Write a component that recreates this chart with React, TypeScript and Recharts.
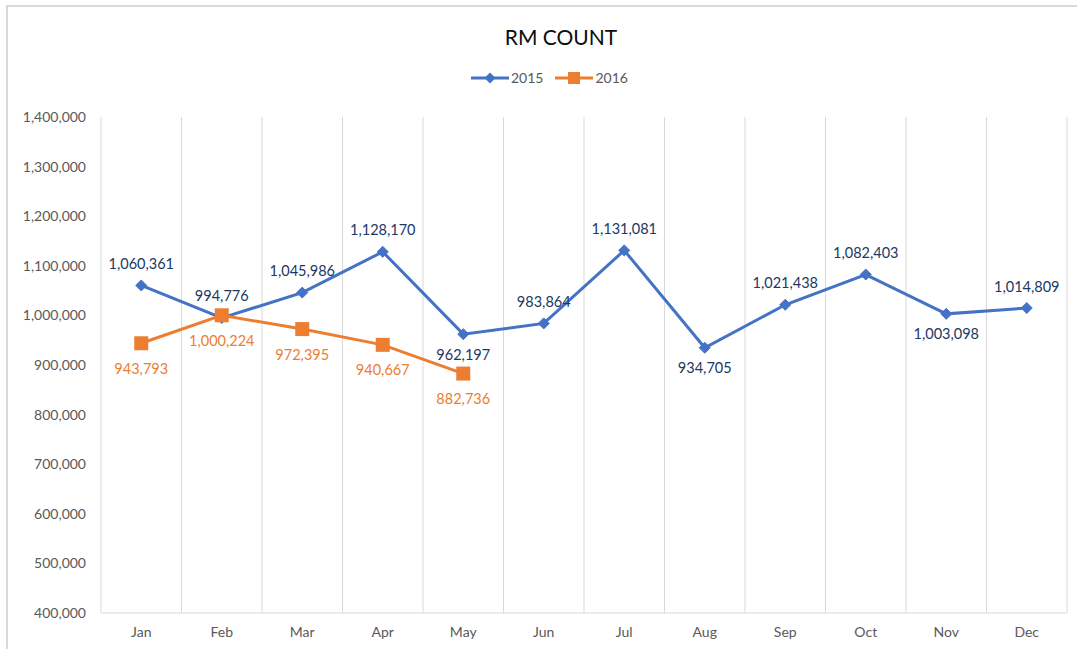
import React from 'react';
import { LineChart, Line, XAxis, YAxis, CartesianGrid } from 'recharts';

const months = ['Jan', 'Feb', 'Mar', 'Apr', 'May', 'Jun', 'Jul', 'Aug', 'Sep', 'Oct', 'Nov', 'Dec'];
const count2015 = [1060361, 994776, 1045986, 1128170, 962197, 983864, 1131081, 934705, 1021438, 1082403, 1003098, 1014809];
const count2016 = [943793, 1000224, 972395, 940667, 882736];
const yTicks = [400000, 500000, 600000, 700000, 800000, 900000, 1000000, 1100000, 1200000, 1300000, 1400000];

// months where the 2015 label sits under the point
const below2015 = ['May', 'Aug', 'Nov'];

const BLUE = '#4472C4';
const ORANGE = '#ED7D31';
const FONT = 'Lato, "Open Sans", sans-serif';

const data = months.map((m, i) => ({
  month: m,
  y2015: count2015[i],
  y2016: i < count2016.length ? count2016[i] : null,
}));

const fmt = (v: number) => v.toLocaleString('en-US');

const Diamond = (props: any) => {
  const { cx, cy } = props;
  if (cx == null || cy == null) return null;
  const r = 5.5;
  return <path d={`M${cx},${cy - r}L${cx + r},${cy}L${cx},${cy + r}L${cx - r},${cy}Z`} fill={BLUE} stroke={BLUE} />;
};

const Square = (props: any) => {
  const { cx, cy } = props;
  if (cx == null || cy == null) return null;
  return <rect x={cx - 7} y={cy - 7} width={14} height={14} fill={ORANGE} />;
};

const Label2015 = (props: any) => {
  const { x, y, value, index } = props;
  if (value == null) return null;
  const under = below2015.includes(months[index]);
  return (
    <text x={x} y={under ? y + 20 : y - 22} textAnchor="middle" dominantBaseline="central"
      fill="#203864" fontSize={14.5} fontFamily={FONT}>
      {fmt(value)}
    </text>
  );
};

const Label2016 = (props: any) => {
  const { x, y, value } = props;
  if (value == null) return null;
  return (
    <text x={x} y={y + 25} textAnchor="middle" dominantBaseline="central"
      fill={ORANGE} fontSize={14.5} fontFamily={FONT}>
      {fmt(value)}
    </text>
  );
};

export default function App() {
  return (
    <div style={{ position: 'relative', width: 1077, height: 649, overflow: 'hidden', background: '#fff', fontFamily: FONT }}>
      <style>{'body{margin:0}'}</style>
      <div style={{ position: 'absolute', left: 6, top: 5, width: 1200, height: 800, border: '2px solid #d9d9d9', boxSizing: 'border-box' }} />
      <div style={{ position: 'absolute', left: 0, width: 1122, top: 24, textAlign: 'center', fontSize: 21, color: '#0d0d0d' }}>RM COUNT</div>
      <div style={{ position: 'absolute', left: 471, top: 69, display: 'flex', alignItems: 'center', fontSize: 14, color: '#595959' }}>
        <svg width={38} height={16}>
          <line x1={0} y1={8} x2={38} y2={8} stroke={BLUE} strokeWidth={3} />
          <path d="M19,2.5L24.5,8L19,13.5L13.5,8Z" fill={BLUE} />
        </svg>
        <span style={{ marginLeft: 2 }}>2015</span>
        <svg width={38} height={16} style={{ marginLeft: 12 }}>
          <line x1={0} y1={8} x2={38} y2={8} stroke={ORANGE} strokeWidth={3} />
          <rect x={13} y={2} width={12} height={12} fill={ORANGE} />
        </svg>
        <span style={{ marginLeft: 2 }}>2016</span>
      </div>
      <div style={{ position: 'absolute', left: 0, top: 0 }}>
        <LineChart width={1077} height={649} data={data} margin={{ top: 117, right: 10, bottom: 0, left: 0 }}>
          <CartesianGrid
            horizontal={false}
            stroke="#d9d9d9"
            verticalCoordinatesGenerator={({ offset }: any) =>
              Array.from({ length: months.length + 1 }, (_, i) => offset.left + (i * offset.width) / months.length)
            }
          />
          <XAxis
            dataKey="month"
            scale="band"
            height={36}
            axisLine={{ stroke: '#d9d9d9' }}
            tickLine={false}
            tickMargin={8}
            tick={{ fill: '#595959', fontSize: 14, fontFamily: FONT }}
            interval={0}
          />
          <YAxis
            width={101}
            domain={[400000, 1400000]}
            ticks={yTicks}
            tickFormatter={fmt}
            axisLine={false}
            tickLine={false}
            tickMargin={9}
            tick={{ fill: '#595959', fontSize: 14, fontFamily: FONT }}
          />
          <Line dataKey="y2015" stroke={BLUE} strokeWidth={3} dot={<Diamond />} activeDot={false}
            label={<Label2015 />} isAnimationActive={false} />
          <Line dataKey="y2016" stroke={ORANGE} strokeWidth={3} dot={<Square />} activeDot={false}
            label={<Label2016 />} isAnimationActive={false} />
        </LineChart>
      </div>
    </div>
  );
}
